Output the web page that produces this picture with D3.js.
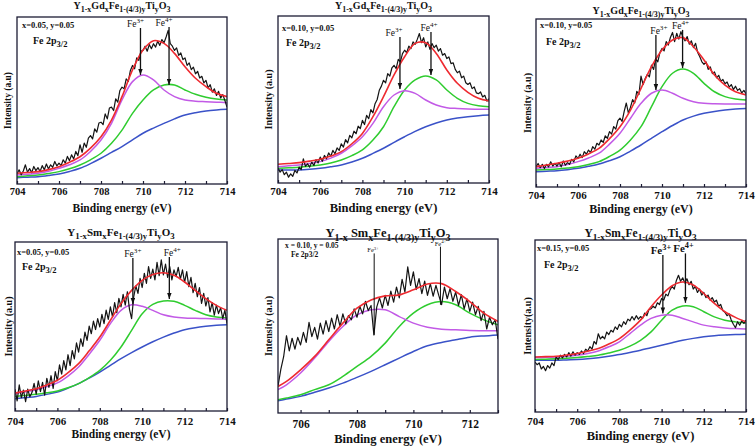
<!DOCTYPE html>
<html><head><meta charset="utf-8">
<script src="https://cdn.jsdelivr.net/npm/d3@7"></script>
<style>body{margin:0;background:#fff}svg{display:block}text{font-family:"Liberation Serif","Times New Roman",serif}</style>
</head><body><svg id="c" width="756" height="447"></svg>
<script>
// ---------- DATA ----------
const FIT_E = [704,704.5,705,705.5,706,706.5,707,707.5,708,708.5,709,709.5,710,710.5,711,711.5,712,712.5,713,713.5,714];
const FIT_E_P5 = [705.2,705.5,706,706.5,707,707.5,708,708.5,709,709.5,710,710.5,711,711.5,712,712.5,713];
const RAW_START = [704,704,704,704,705.2,704];
const RAW_STEP = 0.1;
const X_DOMAIN = [[704,714],[704,714],[704,714],[704,714],[705.2,713],[704,714]];
const X_TICKS = [704,706,708,710,712,714];
const X_MINOR = [705,707,709,711,713];
const X_TICKS_P5 = [706,708,710,712];
const X_MINOR_P5 = [707,709,711,713];

// panel 1 : Y1-xGdx..., x=0.05
const P1_RAW = [6.0,8.5,5.5,7.8,11.5,7.0,9.2,6.8,10.5,8.0,
9.8,7.5,11.0,8.5,12.0,9.0,11.5,10.0,13.5,10.8,
12.5,11.0,14.5,12.5,16.5,14.0,17.5,15.0,19.5,17.0,
23.5,19.0,24.5,22.0,27.5,29.0,27.0,33.0,31.0,36.5,
37.0,35.5,42.0,39.0,45.5,46.0,44.0,51.0,49.0,56.0,
58.0,57.0,63.0,61.5,68.0,71.0,69.0,75.5,74.0,79.5,
80.0,82.5,79.5,83.5,81.0,84.0,82.0,85.5,83.0,86.5,
84.5,88.0,92.0,84.0,82.5,80.0,81.5,77.0,78.5,74.5,
75.5,71.0,72.5,68.5,70.0,66.0,67.5,63.5,64.5,60.5,
62.0,57.5,59.5,55.0,57.0,53.0,55.5,51.5,53.5,50.0,46.0];
const P1_FIT = [6.4,6.9,7.4,8.6,10.4,13,16.3,21.5,28.3,38.3,52.3,68.3,80.2,85.8,84.2,78.2,70.2,63.3,58.3,54.3,52.3];
const P1_FE3 = [5.4,5.9,6.4,7.6,9.4,11.5,14.4,19.5,26.3,36.3,50.3,61.3,65.3,62.3,56.3,52.3,50.3,49.6,49.3,49,48.7];
const P1_FE4 = [4.4,4.9,5.4,6.3,7.4,9.1,11.4,14.5,18.4,24.4,32.3,42.3,50.3,56.3,59.3,59.3,56.3,53.7,52,50.9,50.3];
const P1_BG = [3.8,4.1,4.4,5.1,6,7.5,9.4,12.2,15.4,18.9,22.4,26.4,30.4,33.5,36.3,39,41.3,42.7,43.7,44.3,44.7];
const P1_ARROWS = [["3+",709.88,93.4,65.3],["4+",711.24,94,59.3]];

// panel 2 : Y1-xGdx..., x=0.10
const P2_RAW = [9.0,6.5,8.0,5.0,6.5,3.5,5.5,4.0,7.5,6.0,
9.5,8.0,14.5,10.0,11.5,9.5,12.5,10.5,14.0,12.0,
15.5,13.0,16.5,14.5,18.0,16.0,19.5,17.5,21.0,19.5,
23.5,21.5,26.0,24.0,28.5,27.0,31.0,29.5,34.0,32.5,
37.5,35.0,40.5,38.5,44.0,42.0,47.5,50.0,55.5,58.0,
61.5,60.0,65.5,64.0,69.0,70.5,68.5,74.0,72.5,77.5,
79.5,78.0,82.0,80.5,84.5,83.0,86.0,89.5,84.0,87.0,
81.5,84.5,80.0,83.5,81.0,82.5,79.0,80.5,76.5,77.5,
74.5,75.5,71.5,72.0,68.0,66.0,67.0,63.0,64.0,60.0,
59.0,60.0,56.5,57.5,54.0,53.5,54.5,51.5,52.5,49.0,50.5];
const P2_FIT = [11.2,11.7,12.2,13.1,14.2,16.1,18.8,23.5,29.7,39.7,51.7,64.7,75.6,83.6,84.0,77.6,67.7,59.7,54.3,50.7,49.1];
const P2_FE3 = [9.8,10.3,10.8,11.7,12.8,14.9,17.8,22.2,27.7,35.7,45.7,52.7,55.3,53.7,49.7,46.7,45.1,44.6,44.3,44.2,44.1];
const P2_FE4 = [8.8,9.1,9.4,10,10.8,12,13.8,16.4,19.8,25.7,33.7,45.7,55.7,61.7,64.1,61.7,55.7,50.7,47.7,46.3,45.7];
const P2_BG = [7.8,7.8,7.8,8.2,8.8,9.7,10.8,12.6,14.8,17.7,20.8,24.3,27.7,30.9,33.7,35.9,37.7,38.9,39.7,40.3,40.7];
const P2_ARROWS = [["3+",709.78,87.4,56.3],["4+",711.25,90.4,64.7]];

// panel 3 : Y1-xGdx..., x=0.10 (second)
const P3_RAW = [12.0,14.0,11.5,13.5,11.0,13.5,12.0,15.0,12.5,14.0,
12.5,14.5,12.0,15.5,13.0,14.5,13.5,16.5,15.0,18.5,
17.0,19.5,17.5,21.0,19.5,22.0,20.5,24.0,22.5,26.0,
25.0,28.0,26.5,30.5,29.0,33.0,31.5,36.0,34.5,39.5,
41.0,39.0,45.0,50.0,44.0,47.5,52.0,50.0,57.0,55.0,
66.0,61.0,64.5,67.0,65.5,72.5,70.0,76.5,74.5,80.0,
82.5,81.0,86.5,84.5,89.0,92.0,86.5,91.5,88.0,92.5,
89.0,87.0,89.5,85.0,87.0,83.0,85.5,80.0,77.5,74.5,
73.0,74.5,70.0,71.5,67.5,68.5,65.0,66.5,63.0,64.0,
61.5,62.5,59.5,61.0,58.0,60.0,57.5,58.5,56.0,57.5,55.5];
const P3_FIT = [12.1,13.1,14.1,15.4,17.1,19.7,23,28.8,35.9,45.8,58.7,71.6,81.5,87.5,88.9,83.5,75.6,66.7,60.7,56.7,54.8];
const P3_FE3 = [11.1,11.6,12.1,13.4,15.1,17.3,20.1,25.5,32,40.9,49.8,55.8,57.7,55.8,52.8,50.8,49.8,49.5,49.4,49.4,49.4];
const P3_FE4 = [10.1,10.4,10.7,11.3,12.1,13.4,15.1,18.2,22,28,35.9,47.8,59.7,67.7,70.2,67.7,61.7,56.7,53.8,52.4,51.8];
const P3_BG = [9.1,9.4,9.7,10.3,11.1,12.3,13.7,15.7,18,21.4,25,29,32.9,36.6,39.9,42.2,43.9,45,45.8,46.4,46.8];
const P3_ARROWS = [["3+",709.71,90.5,57.7],["4+",710.98,93.5,70.8]];

// panel 4 : Y1-xSmx..., x=0.05
const P4_RAW = [13.0,6.0,15.5,8.0,12.5,5.5,13.0,8.5,11.0,16.5,
10.0,18.0,11.5,17.0,9.5,19.5,14.0,21.0,13.5,23.5,
18.0,27.5,22.0,30.0,24.5,33.5,27.0,36.0,31.0,40.5,
35.0,43.0,38.5,47.0,42.0,50.5,46.0,53.5,48.5,55.0,
50.0,57.5,52.0,60.0,54.5,62.0,56.0,64.5,58.5,67.0,
62.0,69.5,63.0,71.0,60.5,55.0,68.0,74.5,70.0,79.0,
73.5,82.0,76.0,86.0,79.0,84.5,78.0,88.5,80.5,90.0,
81.0,87.5,79.5,86.0,78.0,84.0,80.0,85.5,78.5,84.0,
76.5,83.0,74.0,79.5,70.5,76.0,68.0,73.5,64.0,70.0,
62.5,67.5,59.0,64.5,57.0,63.0,58.0,61.5,55.0,60.0,52.0];
const P4_FIT = [10.7,11.9,13.3,15.5,18.3,22.8,28.2,35.8,44,54,63.9,71.8,77.8,81.3,82.3,80.8,76.8,71.8,66.9,62.9,59.9];
const P4_FE3 = [10.3,11.4,12.7,14.5,16.7,20.8,26.2,33.8,42.1,52,59.9,63.2,62.3,59.9,57.3,56,55.4,55.2,55,54.8,54.6];
const P4_FE4 = [8.7,9.3,9.9,10.8,11.9,13.8,16.3,19.9,24.2,30.2,38.1,48,57.9,63.5,65.5,65.3,62.9,59.9,57.3,56,55.4];
const P4_BG = [7.3,8,8.7,9.9,11.3,13.6,16.3,19.6,23.2,27.2,31.2,34.8,38.1,41.2,44,46.4,48.4,49.6,50.4,51,51.4];
const P4_ARROWS = [["3+",709.56,91,63.7],["4+",711.28,91.7,66.7]];

// panel 5 : Y1-x Smx..., x=0.10
const P5_RAW = [16.0,26.0,33.5,46.0,37.0,44.5,38.0,45.0,
40.5,48.0,42.0,54.0,45.5,51.0,44.0,53.5,47.0,55.0,
48.5,56.5,50.0,58.5,51.5,59.0,53.0,58.0,55.5,62.0,
57.0,63.5,59.0,66.5,61.0,64.0,46.5,63.0,68.5,62.5,
70.0,64.0,72.5,66.0,75.0,68.5,79.5,72.0,87.0,76.0,
84.0,73.5,80.0,71.0,78.5,70.0,77.0,69.5,76.0,70.0,
64.5,75.0,68.0,74.0,66.5,72.0,64.0,70.5,62.0,68.0,
60.5,66.0,58.5,63.5,55.0,60.5,50.0,57.0,52.5,55.5,44.0];
const P5_FIT = [15.8,18.8,25.7,33.7,43.6,53.5,62.4,67.3,69.7,70.3,73.3,76.8,77.0,72.3,66.3,59.4,54.5];
const P5_FE3 = [13.9,16.8,23.8,32.7,42.6,51.5,58.4,61.4,61.4,57.4,53.5,51.1,49.9,49.5,49.1,49,48.9];
const P5_FE4 = [7.9,8.9,10.9,13.9,16.8,21.8,27.7,33.7,41.6,51.5,59.4,64.4,66.3,64.4,59.4,55.4,52.5];
const P5_BG = [7.3,8.3,9.9,12.3,14.9,17.8,21.2,24.8,28.7,32.7,36.6,40,42,43.6,45.1,45.9,46.5];
const P5_ARROWS = [["3+",708.61,95,46.5],["4+",710.96,99,64.4]];

// panel 6 : Y1-xSmx..., x=0.15
const P6_RAW = [29.0,27.5,28.5,25.0,26.5,24.0,27.0,25.5,28.5,27.0,
32.0,30.5,33.0,31.5,33.5,32.0,34.5,32.5,35.0,33.0,
34.5,33.5,35.5,34.0,36.5,35.5,38.0,36.5,41.0,39.5,
45.5,42.5,44.0,42.5,46.5,45.0,47.5,46.5,49.5,48.0,
51.0,49.5,52.5,51.0,54.0,53.0,55.5,53.5,56.0,54.0,
55.5,54.5,57.5,56.0,59.5,60.0,61.5,60.5,63.5,62.5,
66.0,65.0,68.5,67.5,71.0,73.0,71.5,76.5,79.5,76.0,
78.0,75.0,77.5,74.0,76.0,71.5,73.0,69.5,71.5,68.0,
69.5,66.5,68.0,65.0,66.5,64.0,65.0,61.5,62.5,59.0,
58.0,56.0,57.0,53.5,51.0,49.0,52.5,50.5,53.0,51.5,53.5];
const P6_FIT = [32,32.2,32.4,33.1,34,35.3,36.9,39.5,42.7,47.6,53.4,61.2,68,73.4,75.6,73.8,68.9,63.1,58.3,55,52.4];
const P6_FE3 = [31.7,31.8,32,32.4,33,34,35.5,37.9,40.8,45.6,50.5,54.4,56.3,56.3,54.4,52.4,50.5,49.5,48.9,48.5,48.3];
const P6_FE4 = [30.5,30.7,30.9,31.3,31.7,32.3,33,34.3,35.9,38.3,41.7,46.6,53.4,59.2,61.6,61.2,58.3,55.3,53.4,52.4,51.8];
const P6_BG = [30.1,30.1,30.1,30.3,30.5,30.9,31.5,32.4,33.4,34.6,35.9,37.4,38.8,40.3,41.7,42.8,43.7,44.3,44.7,45,45.2];
const P6_ARROWS = [["3+",710.06,91.3,57.3],["4+",711.13,92.2,63.5]];

const TITLE_GD = [["Y",""],["1-x","sub"],["Gd",""],["x","sub"],["Fe",""],["1-(4/3)y","sub"],["Ti",""],["y","sub"],["O",""],["3","sub"]];
const TITLE_SM = [["Y",""],["1-x","sub"],["Sm",""],["x","sub"],["Fe",""],["1-(4/3)y","sub"],["Ti",""],["y","sub"],["O",""],["3","sub"]];
const TITLE_SM2 = [["Y",""],["1-x","sub"],["\u00a0Sm",""],["x","sub"],["Fe",""],["1-(4/3)y","sub"],["Ti",""],["y","sub"],["O",""],["3","sub"]];
const INFO = ["x=0.05, y=0.05","x=0.10, y=0.05","x=0.10, y=0.05","x=0.05, y=0.05","x = 0.10, y = 0.05","x=0.15, y=0.05"];
const YLABELS = ["Intensity (a.u)","Intensity (a.u)","Intensity (a.u)","Intensity (a.u)","Intensity (a.u)","Intensity(a.u)"];
const XLABEL = "Binding energy (eV)";

// ---------- LAYOUT / STYLE ----------
const COLORS = {raw:"#141414", fit:"#ee2a30", fe3:"#c25ae6", fe4:"#2fcc2f", bg:"#3a52c8", frame:"#1c1c34"};
const LAYOUT = [
  {l:17,r:227,t:17,b:184,ref:17, title:TITLE_GD, tY:9,tS:10, yl:8,ylS:9.5, xlY:212,xlS:11.5, tp:4,tkS:10.5, info:[22,28,8.5], fe2p:[33,44,10,true], feS:9.5, dx:[-5,-5], heads:true},
  {l:278,r:489,t:16,b:183,ref:16, title:TITLE_GD, tY:9,tS:10, yl:268,ylS:10, xlY:212,xlS:12.5, tp:4,tkS:11, info:[282,31,8.5], fe2p:[286,46,10,true], feS:9.5, dx:[-6,-2], heads:true},
  {l:536,r:746,t:19,b:187,ref:19, title:TITLE_GD, tY:14,tS:10, yl:527,ylS:10, xlY:213,xlS:12,   tp:4,tkS:11, info:[540,28,8.5], fe2p:[546,45,10,true], feS:9.5, dx:[3,-2], heads:true},
  {l:15,r:227,t:242,b:411,ref:243, title:TITLE_SM, tY:236,tS:11, yl:8,ylS:10, xlY:438,xlS:11.5, tp:6,tkS:11, info:[17,255,8.5], fe2p:[22,270,10,true], feS:9.5, dx:[0,3], heads:true},
  {l:278,r:498,t:239,b:413,ref:245, title:TITLE_SM2, tY:237,tS:12.5, yl:268,ylS:10, xlY:443,xlS:12.5, tp:7,tkS:11.5, info:[285,248,7.5], fe2p:[291,257,7.5,false], feS:6.5, dx:[-1,0], heads:false},
  {l:535,r:746,t:240,b:412,ref:240, title:TITLE_SM, tY:237,tS:11.5, yl:527,ylS:10, xlY:440,xlS:12.5, tp:5,tkS:11, info:[537,251,8.5], fe2p:[544,268,10,true], feS:11, dx:[-2,-2], heads:true}
];
const SERIES = [
  [P1_RAW,P1_FIT,P1_FE3,P1_FE4,P1_BG,P1_ARROWS],
  [P2_RAW,P2_FIT,P2_FE3,P2_FE4,P2_BG,P2_ARROWS],
  [P3_RAW,P3_FIT,P3_FE3,P3_FE4,P3_BG,P3_ARROWS],
  [P4_RAW,P4_FIT,P4_FE3,P4_FE4,P4_BG,P4_ARROWS],
  [P5_RAW,P5_FIT,P5_FE3,P5_FE4,P5_BG,P5_ARROWS],
  [P6_RAW,P6_FIT,P6_FE3,P6_FE4,P6_BG,P6_ARROWS]
];

// ---------- DRAW ----------
const svg = d3.select("#c");
const defs = svg.append("defs");
defs.append("marker").attr("id","ah").attr("viewBox","0 0 8 6").attr("refX",8).attr("refY",3)
  .attr("markerWidth",6).attr("markerHeight",5).attr("markerUnits","userSpaceOnUse").attr("orient","auto")
  .append("path").attr("d","M0,0L8,3L0,6Z").attr("fill","#111");

// text with sub/superscripts using relative dy (keeps a single text chunk)
function rich(sel, parts, shift, scale) {
  let cur = 0;
  parts.forEach(([t,k]) => {
    const target = k === "sub" ? shift : k === "sup" ? -shift : 0;
    const ts = sel.append("tspan").text(t);
    if (target - cur !== 0) ts.attr("dy", target - cur);
    if (k) ts.attr("font-size", scale);
    cur = target;
  });
}

LAYOUT.forEach((L, i) => {
  const [raw, fit, fe3, fe4, bg, arrows] = SERIES[i];
  const fitE = i === 4 ? FIT_E_P5 : FIT_E;
  const x = d3.scaleLinear().domain(X_DOMAIN[i]).range([L.l, L.r]);
  const y = d3.scaleLinear().domain([0,100]).range([L.b, L.ref]);
  const g = svg.append("g");
  const clipId = "cl"+i;
  defs.append("clipPath").attr("id",clipId).append("rect")
    .attr("x",L.l).attr("y",L.t).attr("width",L.r-L.l).attr("height",L.b-L.t);

  const plot = g.append("g").attr("clip-path",`url(#${clipId})`);
  const rawLine = d3.line().x((d,j) => x(RAW_START[i] + j*RAW_STEP)).y(d => y(d));
  const fitLine = d3.line().x((d,j) => x(fitE[j])).y(d => y(d)).curve(d3.curveCatmullRom.alpha(0.5));
  plot.append("path").datum(bg).attr("d",fitLine).attr("fill","none").attr("stroke",COLORS.bg).attr("stroke-width",1.5);
  plot.append("path").datum(fe4).attr("d",fitLine).attr("fill","none").attr("stroke",COLORS.fe4).attr("stroke-width",1.5);
  plot.append("path").datum(fe3).attr("d",fitLine).attr("fill","none").attr("stroke",COLORS.fe3).attr("stroke-width",1.5);
  plot.append("path").datum(raw).attr("d",rawLine).attr("fill","none").attr("stroke",COLORS.raw).attr("stroke-width",1.2).attr("stroke-linejoin","round");
  plot.append("path").datum(fit).attr("d",fitLine).attr("fill","none").attr("stroke",COLORS.fit).attr("stroke-width",1.6);

  // frame
  g.append("rect").attr("x",L.l).attr("y",L.t).attr("width",L.r-L.l).attr("height",L.b-L.t)
    .attr("fill","none").attr("stroke",COLORS.frame).attr("stroke-width",1.3);

  // axes
  const major = i === 4 ? X_TICKS_P5 : X_TICKS;
  const minor = i === 4 ? X_MINOR_P5 : X_MINOR;
  const ax = g.append("g").attr("transform",`translate(0,${L.b})`)
    .call(d3.axisBottom(x).tickValues(major).tickFormat(d3.format("d")).tickSize(-3).tickSizeOuter(0).tickPadding(L.tp));
  ax.select(".domain").remove();
  ax.selectAll("line").attr("stroke",COLORS.frame).attr("stroke-width",1.2);
  ax.selectAll("text").attr("font-family","Liberation Serif").attr("font-weight","bold").attr("font-size",L.tkS).attr("fill","#111");
  const axm = g.append("g").attr("transform",`translate(0,${L.b})`)
    .call(d3.axisBottom(x).tickValues(minor).tickFormat("").tickSize(-3).tickSizeOuter(0));
  axm.select(".domain").remove();
  axm.selectAll("line").attr("stroke",COLORS.frame).attr("stroke-width",1.2);

  // labels
  g.append("text").attr("x",(L.l+L.r)/2).attr("y",L.xlY).attr("text-anchor","middle")
    .attr("font-weight","bold").attr("font-size",L.xlS).attr("fill","#111").text(XLABEL);
  g.append("text").attr("transform",`translate(${L.yl + L.ylS*0.35},${(L.t+L.b)/2}) rotate(-90)`)
    .attr("text-anchor","middle").attr("font-weight","bold").attr("font-size",L.ylS).attr("fill","#111").text(YLABELS[i]);
  const tt = g.append("text").attr("x",(L.l+L.r)/2).attr("y",L.tY).attr("text-anchor","middle")
    .attr("font-weight","bold").attr("font-size",L.tS).attr("fill","#111");
  rich(tt, L.title, L.tS*0.28, L.tS*0.8);

  g.append("text").attr("x",L.info[0]).attr("y",L.info[1]).attr("font-weight","bold")
    .attr("font-size",L.info[2]).attr("fill","#111").text(INFO[i]);
  const fp = g.append("text").attr("x",L.fe2p[0]).attr("y",L.fe2p[1]).attr("font-weight","bold")
    .attr("font-size",L.fe2p[2]).attr("fill","#111");
  if (L.fe2p[3]) rich(fp, [["Fe 2p",""],["3/2","sub"]], L.fe2p[2]*0.3, L.fe2p[2]*0.85);
  else fp.text("Fe 2p3/2");

  // arrows
  arrows.forEach(([lab, e, top, tip], k) => {
    const ax0 = x(e);
    g.append("line").attr("x1",ax0).attr("x2",ax0).attr("y1",y(top)).attr("y2",y(tip))
      .attr("stroke","#111").attr("stroke-width",L.heads?1.3:1)
      .attr("marker-end", L.heads ? "url(#ah)" : null);
    const lt = g.append("text").attr("x",ax0 + L.dx[k]).attr("y",y(top)-1).attr("text-anchor","middle")
      .attr("font-size",L.feS).attr("fill","#111").attr("font-weight", i===5 ? "bold" : "normal");
    rich(lt, [["Fe",""],[lab,"sup"]], L.feS*0.4, L.feS*0.75);
  });
});
</script></body></html>
